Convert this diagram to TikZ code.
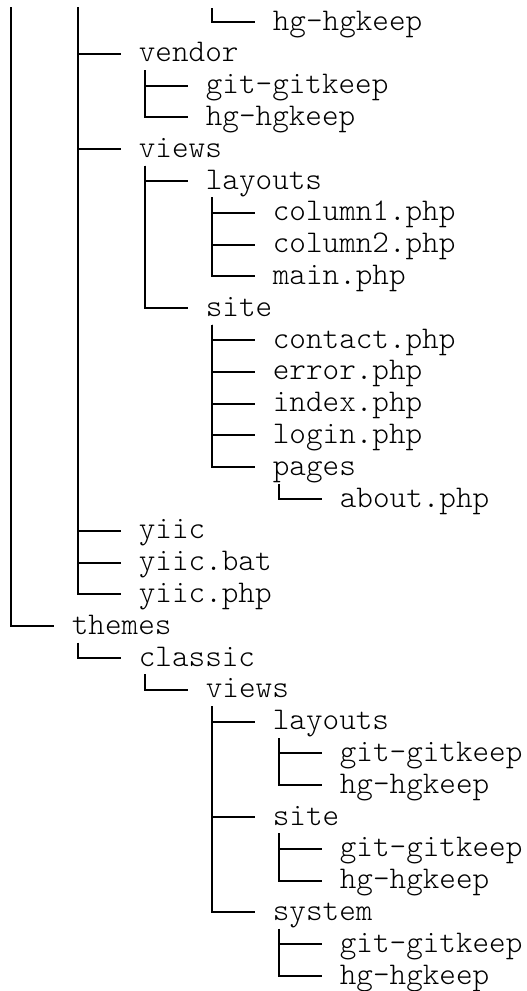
\documentclass[tikz,border=0pt]{standalone}
\usepackage{fontspec}
\setmonofont{Latin Modern Mono Light}
\usepackage{tikz}
\usetikzlibrary{positioning}
\usetikzlibrary{calc}
\tikzstyle{entry}=[anchor=west,inner sep=0pt,text height=8pt,text depth=0pt,font=\ttfamily\fontsize{15.8}{18}\selectfont]
\tikzstyle{branch} = [draw,line width=1pt]

\begin{document}
\begin{tikzpicture}[x=0.5pt, y=-0.5pt]

  \useasboundingbox (0,0) rectangle (526,991);

  \def\dx{4.5};
  \def\dy{22};
  \def\u{67};
  \def\v{31.8};

  % row/level/name/label
  \foreach \y/\x/\name/\label in {0/4/hgtop/hg-hgkeep, 1/2/vendor/vendor, 2/3/vgit/git-gitkeep, 3/3/vhg/hg-hgkeep,
      4/2/views/views, 5/3/vlayouts/layouts, 6/4/colA/column1.php, 7/4/colB/column2.php, 8/4/vmain/main.php,
      9/3/vsite/site, 10/4/contact/contact.php, 11/4/error/error.php, 12/4/index/index.php, 13/4/login/login.php,
      14/4/pages/pages, 15/5/about/about.php, 16/2/yiic/yiic, 17/2/yiicbat/yiic.bat, 18/2/yiicphp/yiic.php,
      19/1/themes/themes, 20/2/classic/classic, 21/3/cviews/views, 22/4/clayouts/layouts, 23/5/clgit/git-gitkeep,
      24/5/clhg/hg-hgkeep, 25/4/csite/site, 26/5/csgit/git-gitkeep, 27/5/cshg/hg-hgkeep, 28/4/csystem/system,
      29/5/csygit/git-gitkeep, 30/5/csyhg/hg-hgkeep}
          \node[entry] (\name) at (\x*\u+\dx, \y*\v + \dy) {\label};

  % cut off at the top
  \coordinate (topA) at (11,7);
  \coordinate (topB) at (78,7);
  \coordinate (topD) at (212,8);

  \foreach \source/ \dest in {topA/themes, topB/vendor, topB/views, topB/yiic, topB/yiicbat, topB/yiicphp, topD/hgtop}
         \draw[branch] (\source) |- ([xshift=-9pt]\dest.west);

  \foreach \source/ \dest in {vendor/vgit, vendor/vhg, views/vlayouts, views/vsite, vlayouts/colA, vlayouts/colB,
      vlayouts/vmain, vsite/contact, vsite/error, vsite/index, vsite/login, vsite/pages, pages/about,
      themes/classic, classic/cviews, cviews/clayouts, cviews/csite, cviews/csystem, clayouts/clgit, clayouts/clhg,
      csite/csgit, csite/cshg, csystem/csygit, csystem/csyhg}
         \draw[branch] ([xshift=3.25pt,yshift=-4pt]\source.south west) |- ([xshift=-9pt]\dest.west);

\end{tikzpicture}
\end{document}
